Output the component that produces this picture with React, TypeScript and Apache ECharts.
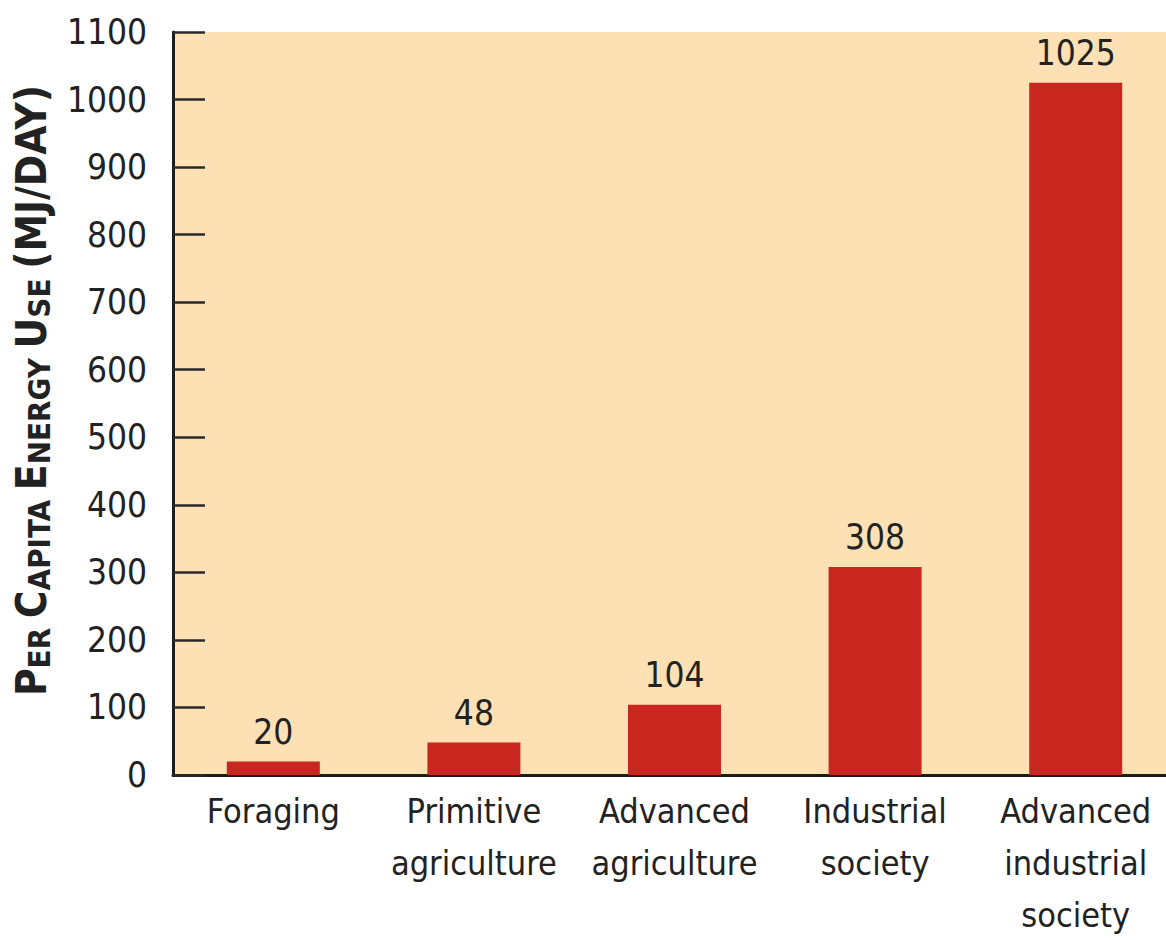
import React, { useEffect, useRef } from "react";
import * as echarts from "echarts";

const categories = [
  "Foraging",
  "Primitive\nagriculture",
  "Advanced\nagriculture",
  "Industrial\nsociety",
  "Advanced\nindustrial\nsociety",
];
const energyUse = [20, 48, 104, 308, 1025];
const yMin = 0;
const yMax = 1100;
const yStep = 100;

const FONT = "'Liberation Sans Narrow', 'DejaVu Sans Condensed', 'Roboto Condensed', 'Liberation Sans', sans-serif";

export default function App() {
  const ref = useRef<HTMLDivElement>(null);
  useEffect(() => {
    if (!ref.current) return;
    const chart = echarts.init(ref.current, undefined, { renderer: "svg" });
    chart.setOption({
      animation: false,
      backgroundColor: "#ffffff",
      grid: {
        left: 173,
        top: 32,
        width: 1003,
        height: 743,
        show: true,
        backgroundColor: "#fde0b3",
        borderWidth: 0,
        containLabel: false,
        outerBoundsMode: "none",
      },
      xAxis: {
        type: "category",
        data: categories,
        axisLine: { show: true, lineStyle: { color: "#1c1c1c", width: 3 } },
        axisTick: { show: false },
        axisLabel: {
          fontFamily: FONT,
          fontSize: 34,
          lineHeight: 52,
          color: "#222222",
          margin: 10,
          interval: 0,
        },
      },
      yAxis: {
        type: "value",
        min: yMin,
        max: yMax,
        interval: yStep,
        splitLine: { show: false },
        axisLine: { show: true, lineStyle: { color: "#1c1c1c", width: 3 } },
        axisTick: { show: true, inside: true, length: 32, lineStyle: { color: "#2a2a2a", width: 2.5 } },
        axisLabel: {
          fontFamily: FONT,
          fontSize: 35,
          color: "#222222",
          margin: 26,
          formatter: (v: number) => String(v),
        },
        name: "{b|P}{s|ER }{b|C}{s|APITA }{b|E}{s|NERGY }{b|U}{s|SE }{b|(MJ/DAY)}",
        nameLocation: "middle",
        nameRotate: 90,
        nameGap: 121,
        nameTextStyle: {
          padding: [0, 0, 0, 26],
          rich: {
            b: { fontFamily: FONT, fontSize: 42, fontWeight: "bold", color: "#222222", lineHeight: 42, verticalAlign: "bottom" },
            s: { fontFamily: FONT, fontSize: 31, fontWeight: "bold", color: "#222222", lineHeight: 31, verticalAlign: "bottom", padding: [0, 0, -2, 0] },
          },
        },
      },
      series: [
        {
          type: "bar",
          data: energyUse,
          barWidth: 93,
          itemStyle: { color: "#c8261f" },
          label: {
            show: true,
            position: "top",
            distance: 12,
            fontFamily: FONT,
            fontSize: 35,
            color: "#222222",
          },
        },
      ],
    });
    return () => chart.dispose();
  }, []);
  return (
    <div
      ref={ref}
      style={{ position: "fixed", left: 0, top: 0, width: 1166, height: 940 }}
    />
  );
}
